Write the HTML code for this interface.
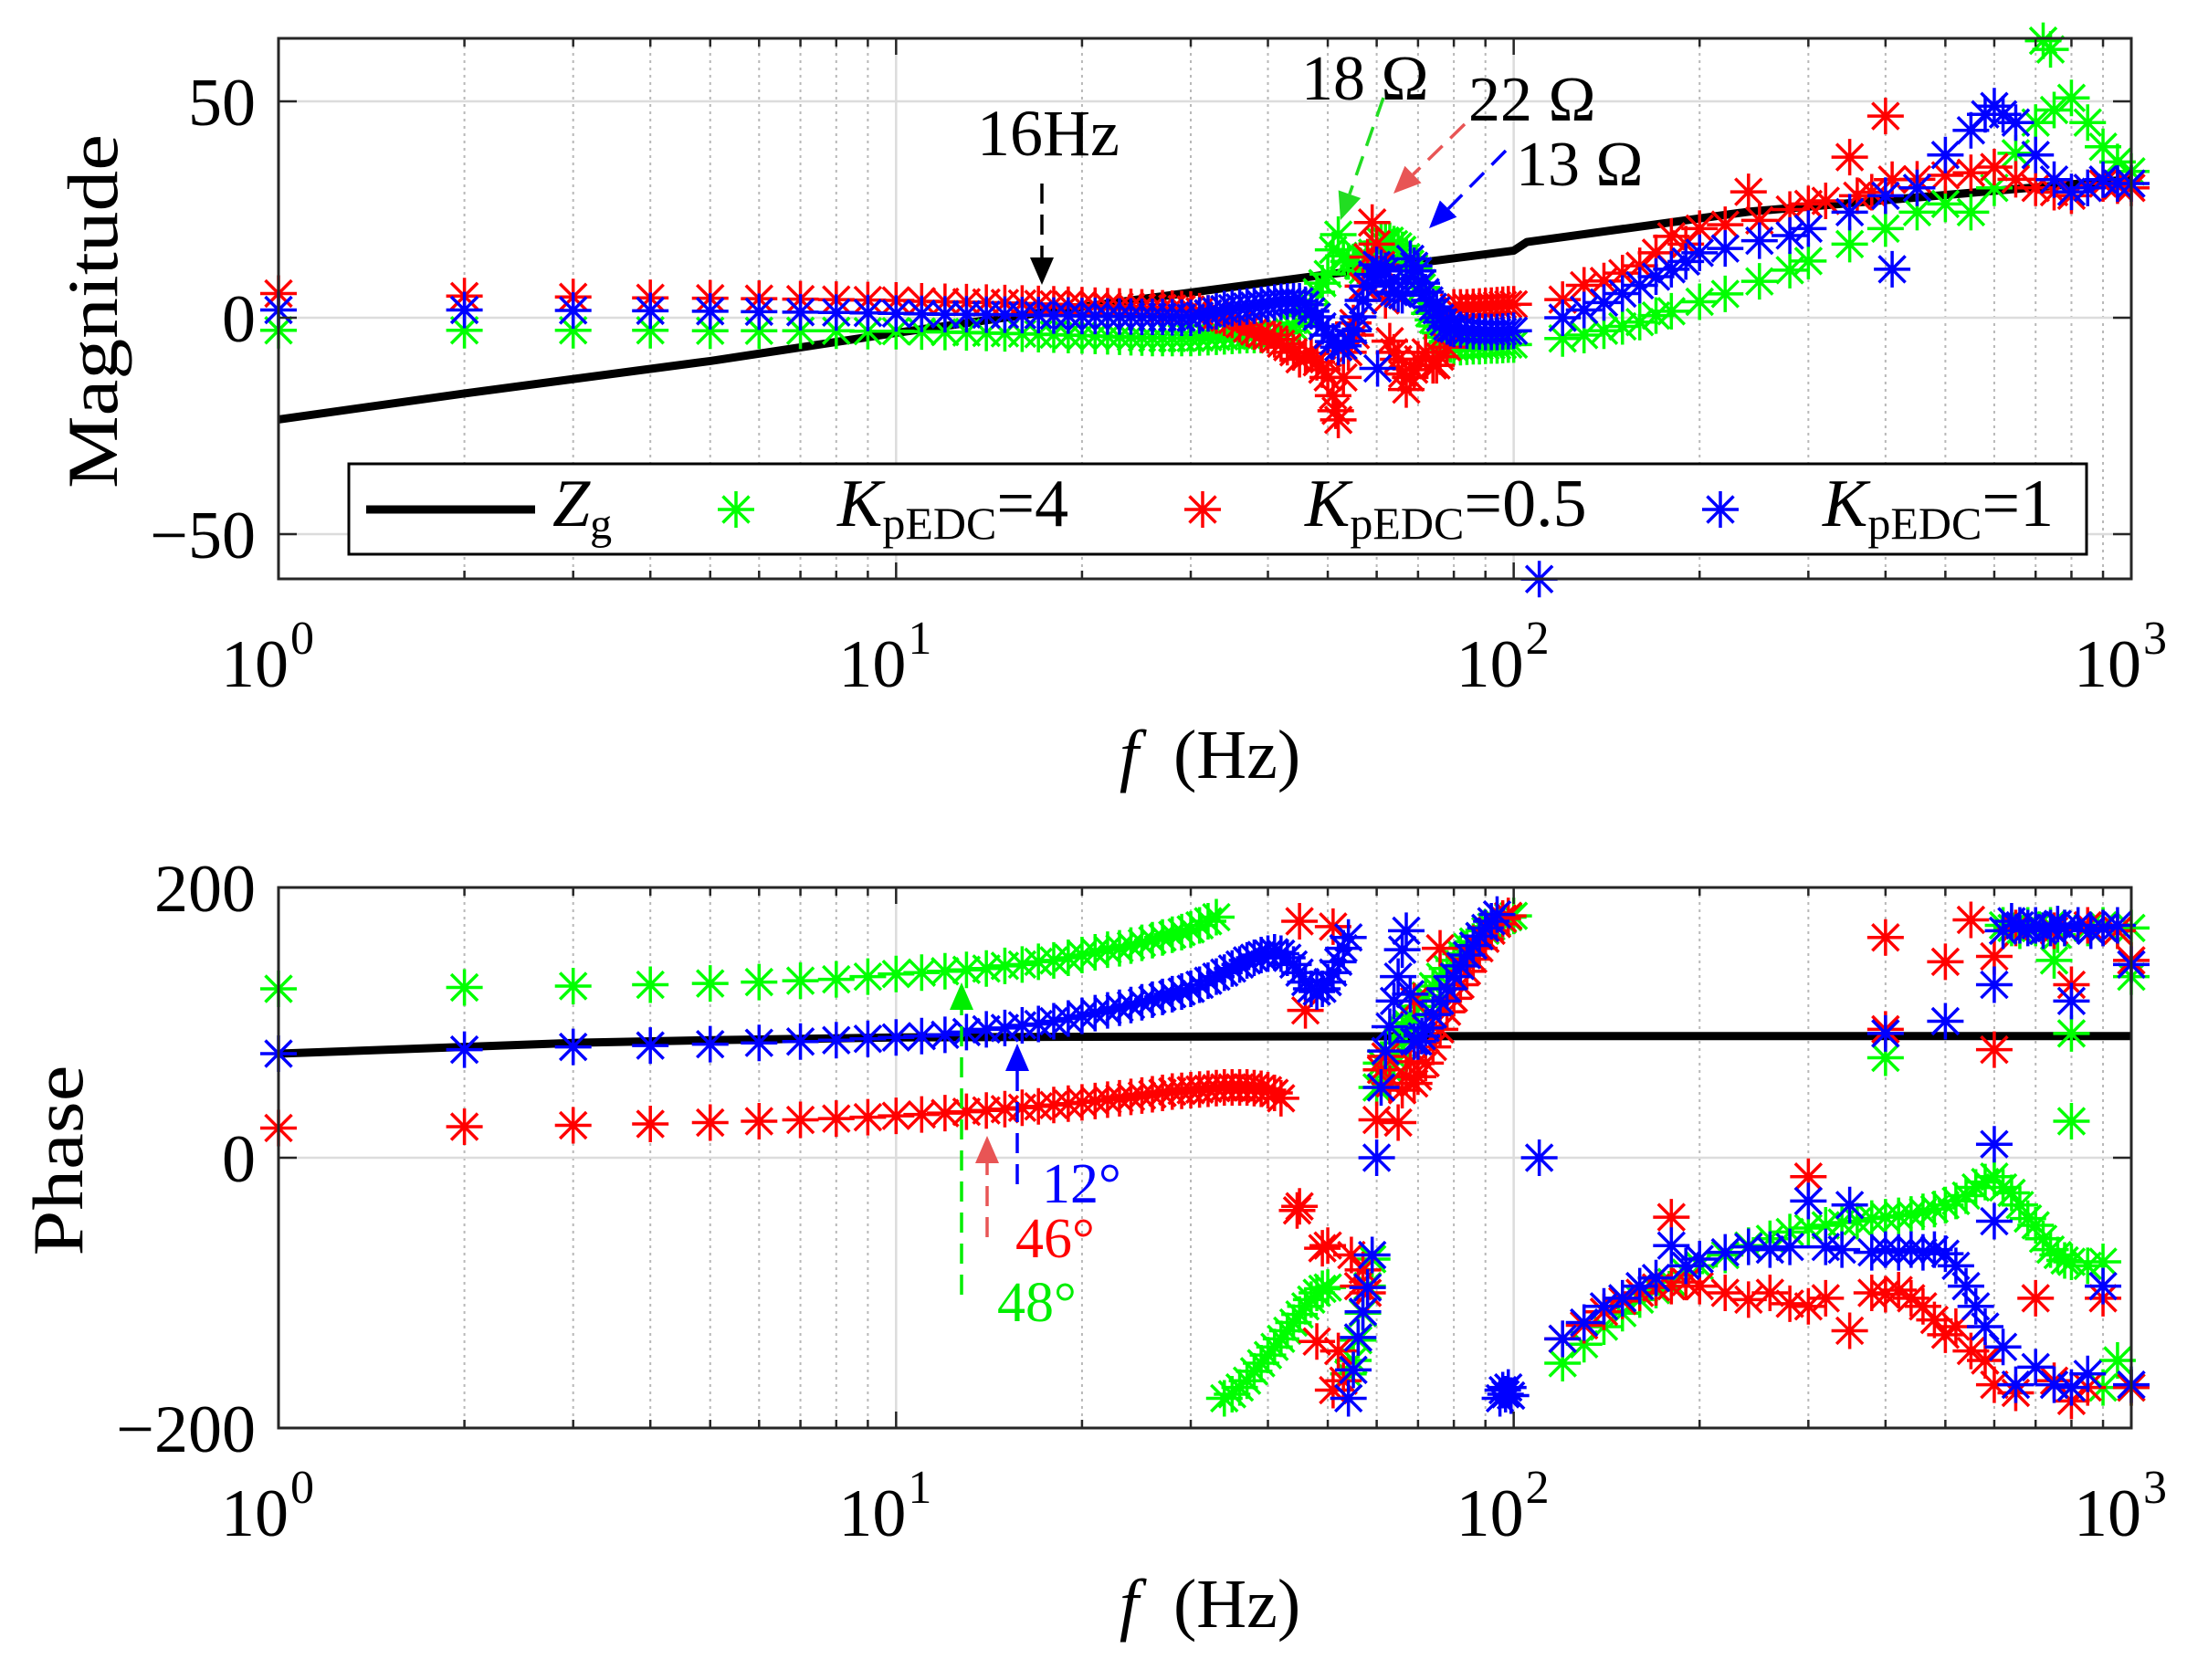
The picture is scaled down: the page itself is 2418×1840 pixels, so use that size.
<!DOCTYPE html>
<html><head><meta charset="utf-8">
<style>
html,body{margin:0;padding:0;background:#fff;}
svg{display:block;font-family:"Liberation Serif",serif;}
</style></head>
<body>
<svg id="chart" width="2418" height="1840" viewBox="0 0 2418 1840" xmlns="http://www.w3.org/2000/svg">
<rect width="2418" height="1840" fill="#fff"/>
<g id="gridM"></g>
<g id="gridP"></g>
<g id="plotM"></g>
<g id="plotP"></g>
<g id="axesM"></g>
<g id="axesP"></g>

<text transform="translate(128,341) rotate(-90)" text-anchor="middle" font-size="78" textLength="388" lengthAdjust="spacingAndGlyphs">Magnitude</text>
<text transform="translate(90,1271) rotate(-90)" text-anchor="middle" font-size="78" textLength="209" lengthAdjust="spacingAndGlyphs">Phase</text>
<text x="1325" y="852" text-anchor="middle" font-size="76" xml:space="preserve"><tspan font-style="italic">f</tspan>  (Hz)</text>
<text x="1325" y="1782" text-anchor="middle" font-size="76" xml:space="preserve"><tspan font-style="italic">f</tspan>  (Hz)</text>

<g id="legend">
  <rect x="382" y="508" width="1903" height="99" fill="#fff" stroke="#000" stroke-width="3"/>
  <line x1="401" y1="558" x2="586" y2="558" stroke="#000" stroke-width="9"/>
  <text x="605" y="576" font-size="74"><tspan font-style="italic">Z</tspan><tspan font-size="48" dy="14">g</tspan></text>
  <text x="917" y="576" font-size="74"><tspan font-style="italic">K</tspan><tspan font-size="50" dy="14">pEDC</tspan><tspan dy="-14">=4</tspan></text>
  <text x="1429" y="576" font-size="74"><tspan font-style="italic">K</tspan><tspan font-size="50" dy="14">pEDC</tspan><tspan dy="-14">=0.5</tspan></text>
  <text x="1996" y="576" font-size="74"><tspan font-style="italic">K</tspan><tspan font-size="50" dy="14">pEDC</tspan><tspan dy="-14">=1</tspan></text>
  <g id="legendStars"></g>
</g>

<g id="annot">
  <text x="1070" y="170" font-size="72">16Hz</text>
  <text x="1425" y="109" font-size="70">18 Ω</text>
  <text x="1608" y="132" font-size="70">22 Ω</text>
  <text x="1660" y="203" font-size="70">13 Ω</text>
  <text x="1141" y="1317" font-size="62" fill="#0000ff">12°</text>
  <text x="1112" y="1377" font-size="62" fill="#ff0000">46°</text>
  <text x="1092" y="1447" font-size="62" fill="#00ee00">48°</text>
</g>
</svg>
<script>
// ---------- data ----------
const zgMag = [[1,-23.5],[2,-17.5],[5,-10],[10,-3.5],[20,2.5],[50,10],[100,15.5],[105,17.5],[240,24.5],[1000,32]];
const zgPhase = [[1,77],[2,82],[3,85],[5,87],[10,89],[20,89.5],[100,90],[1000,90]];

const magGreen = [[1,-2.9],[2,-2.9],[3,-2.9],[4,-2.9],[5,-3],[6,-3],[7,-3],[8,-3],[9,-3.1],[10,-3.1],[11,-3.2],[12,-3.3],[13,-3.4],[14,-3.5],[15,-3.6],[16,-3.7],[17,-3.8],[18,-3.9],[19,-4],[20,-4.1],[21,-4.2],[22,-4.3],[23,-4.4],[24,-4.5],[25,-4.6],[26,-4.7],[27,-4.7],[28,-4.7],[29,-4.7],[30,-4.7],[31,-4.6],[32,-4.5],[33,-4.4],[34,-4.3],[35,-4.2],[36,-4.1],[37,-4],[38,-4],[39,-4],[40,-4],[41,-3.8],[42,-3.5],[43,-3],[44,-2],[45,-1.2],[46,0.5],[47,3],[48,5.9],[49,8],[50,10.1],[51,15.7],[52,19.2],[53,14.3],[54,13],[55,12.9],[56,12],[57,11],[58,13],[59,15],[60,17.1],[61,17.5],[62,17.8],[63,17.8],[64,17],[65,16.5],[66,15.7],[67,14],[68,12.5],[69,11.5],[70,10.8],[71,7],[72,3.8],[73,1],[74,-0.5],[75,-1.9],[76,-3.5],[77,-4.5],[78,-5.5],[79,-6.2],[80,-6.8],[82,-6.8],[84,-6.7],[86,-6.6],[88,-6.6],[90,-6.5],[92,-6.4],[94,-6.4],[96,-6.3],[98,-6.2],[100,-6.2],
[120,-4.8],[130,-4],[140,-3],[150,-2],[160,-1],[170,0.5],[180,1.5],[200,3.7],[220,5.5],[250,8.4],[280,11],[300,13.1],[350,17],[400,20.6],[450,24.4],[500,26.3],[550,24.4],[600,30],[650,38],[700,45.1],[720,64],[740,62],[750,48],[800,50.8],[850,45.1],[900,39.5],[950,36],[1000,33.8]];

const magRed = [[1,5.6],[2,5],[3,4.8],[4,4.6],[5,4.5],[6,4.4],[7,4.3],[8,4.2],[9,4.1],[10,4],[11,3.8],[12,3.7],[13,3.6],[14,3.5],[15,3.4],[16,3.3],[17,3.2],[18,3.1],[19,3],[20,2.9],[21,2.8],[22,2.7],[23,2.6],[24,2.5],[25,2.4],[26,2.3],[27,2.2],[28,2.1],[29,2],[30,1.9],[31,1.5],[32,1],[33,0.5],[34,0],[35,-0.5],[36,-1.5],[37,-2.5],[38,-3.2],[39,-3.8],[40,-4],[41,-5],[42,-6],[43,-6.8],[44,-8],[45,-9.6],[46,-9],[47,-8.2],[48,-10.3],[49,-12],[50,-13.8],[51,-18],[51.5,-21.5],[52,-23.6],[53,-13.8],[54,-8],[55,-1.2],[55.5,-4],[57,7.3],[58,14],[59,22],[60,17],[61,12.2],[62,4],[63,-5.4],[64,-8],[65,-9.6],[66,-13],[67,-16.6],[68,-13.8],[69,-12],[70,-9.6],[72,-8],[74,-11],[75,-11],[76,-9],[78,-6.8],[80,2.4],[82,2.4],[84,2.4],[86,2.5],[88,2.6],[90,2.7],[92,2.8],[94,2.9],[96,3],[98,3.1],[100,3.1],
[120,4.2],[130,7.5],[140,8.5],[150,10.3],[160,12],[170,15],[180,18.8],[190,17],[200,20.6],[220,21.5],[240,29.1],[250,22.5],[280,25],[300,26.3],[320,27],[350,37.1],[360,28.2],[380,29],[400,46.6],[410,31.9],[450,32],[500,32.9],[550,33.5],[600,34.8],[650,32],[700,30],[750,29],[800,28.2],[850,30],[900,31],[950,30.5],[1000,30]];

const magBlue = [[1,1.8],[2,1.8],[3,1.7],[4,1.6],[5,1.5],[6,1.4],[7,1.3],[8,1.2],[9,1.1],[10,1],[11,0.9],[12,0.8],[13,0.8],[14,0.7],[15,0.7],[16,0.6],[17,0.6],[18,0.5],[19,0.5],[20,0.4],[21,0.4],[22,0.3],[23,0.3],[24,0.3],[25,0.2],[26,0.2],[27,0.2],[28,0.1],[29,0],[30,0],[31,0.5],[32,1],[33,1.5],[34,2],[35,2.2],[36,2.4],[37,2.6],[38,2.8],[39,3],[40,3.2],[41,3.5],[42,3.7],[43,3.8],[44,3.8],[45,3.8],[46,3],[47,1.5],[48,0.2],[49,-2],[50,-4],[51,-5.5],[52,-6.8],[53,-6.5],[54,-5.4],[55,-3],[56,0.2],[57,4],[58,7.3],[59,10],[60,12.2],[60.2,-11.7],[61,11.5],[62,10.8],[63,8],[64,5.9],[65,5.5],[66,5.2],[67,9],[68,13.6],[69,12],[70,10.8],[71,8],[72,5.9],[73,4],[74,2.5],[75,1.7],[76,0],[77,-1],[78,-2],[79,-2.4],[80,-2.6],[82,-2.8],[84,-3],[86,-3.1],[88,-3.2],[90,-3.3],[92,-3.3],[94,-3.3],[96,-3.2],[98,-3.1],[100,-3],
[110,-60.4],[120,0],[130,1.8],[140,3.5],[150,5.6],[160,7.5],[170,9.5],[180,11.2],[190,13],[200,15],[220,16],[250,17.8],[280,19],[300,20.6],[350,24.4],[400,28.2],[410,11.2],[450,30],[500,37.6],[550,43.3],[580,47],[600,48.9],[620,47],[650,45.1],[700,37.6],[750,31.9],[800,29.1],[850,30],[900,31.9],[950,31],[1000,31]];

const phGreen = [[1,125],[2,126],[3,127],[4,128],[5,129],[6,130],[7,131],[8,132],[9,134],[10,136],[11,137],[12,138],[13,139],[14,140],[15,142],[16,143],[17,145],[18,146],[19,148],[20,150],[21,152],[22,154],[23,155],[24,157],[25,159],[26,161],[27,163],[28,165],[29,167],[30,169],[31,172],[32,175],[33,178],
[34,-178],[35,-175],[36,-170],[37,-165],[38,-158],[39,-152],[40,-146],[41,-140],[42,-134],[43,-128],[44,-122],[45,-116],[46,-110],[47,-105],[48,-100],[49,-97],[50,-96],[54,-160],[55,-150],[56,-135],[57,-115],[58,-95],[59,-75],[60,52],[61,70],[62,60],[63,65],[64,75],[65,85],[66,95],[67,100],[68,105],[70,112],[72,120],[74,127],[76,134],[78,140],[80,146],[82,151],[84,156],[86,160],[88,164],[90,168],[92,171],[94,174],[96,176],[98,178],[100,179],
[120,-152],[130,-138],[140,-125],[150,-115],[160,-105],[170,-98],[180,-92],[190,-85],[200,-80],[220,-72],[240,-65],[260,-60],[280,-55],[300,-52],[320,-50],[340,-48],[360,-47],[380,-45],[400,-44],[420,-43],[440,-42],[460,-40],[480,-38],[500,-35],[520,-32],[540,-28],[560,-22],[580,-18],[600,-14],[620,-22],[640,-26],[660,-35],[680,-45],[700,-50],[720,-60],[740,-68],[760,-72],[780,-76],[800,-77],[850,-80],[900,-77],[950,-150],[1000,-170],
[400,74],[800,27],[800,92],[750,146],[1000,134],[900,-170],[620,172],[640,170],[660,168],[680,172],[700,170],[720,168],[740,172],[760,165],[780,170],[850,170],[900,172],[950,168],[1000,170]];

const phRed = [[1,22],[2,23],[3,24],[4,25],[5,26],[6,27],[7,28],[8,29],[9,30],[10,31],[11,32],[12,33],[13,34],[14,35],[15,36],[16,37],[17,38],[18,39],[19,40],[20,41],[21,42],[22,43],[23,44],[24,45],[25,46],[26,47],[27,48],[28,49],[29,49.5],[30,50],[31,50.5],[32,51],[33,51.5],[34,52],[35,52],[36,52],[37,52],[38,51.5],[39,51],[40,50],[41,48],[42,44],
[45,175],[46,109],[51,171],[44.6,-39],[45,-36],[49,-67],[50,-65],[54.6,-72],[48,-136],[52,-143],[51,-172],[53,-165],[57,-83],[58,-100],[56,-95],
[60,28],[61,65],[62,75],[63,55],[65,26],[66,50],[67,60],[68,71],[69,116],[76,155],[69,55],[70,60],[72,70],[74,82],[76,95],[78,108],[80,118],[82,128],[84,138],[86,147],[88,155],[90,162],[92,168],[94,173],[96,177],[98,179],
[120,-134],[130,-124],[140,-114],[150,-106],[160,-100],[170,-96],[180,-95],[180,-44],[190,-92],[200,-95],[220,-100],[240,-105],[260,-100],[280,-108],[300,-14],[300,-110],[320,-104],[350,-128],[380,-100],[400,-101],[420,-98],[440,-104],[460,-110],[480,-120],[500,-131],[520,-125],[550,-143],[580,-150],[600,-168],[650,-174],[700,-104],[750,-165],[800,-180],[850,-170],[900,-104],[1000,-170],
[400,163],[400,95],[500,145],[550,176],[600,149],[600,80],[650,170],[700,172],[750,168],[800,128],[850,172],[900,170],[950,168],[1000,146]];

const phBlue = [[1,77],[2,80],[3,82],[4,83],[5,84],[6,85],[7,86],[8,87],[9,88],[10,89],[11,90],[12,91],[13,93],[14,95],[15,96],[16,98],[17,99],[18,101],[19,103],[20,105],[21,107],[22,109],[23,111],[24,113],[25,115],[26,117],[27,119],[28,121],[29,123],[30,125],[31,128],[32,131],[33,134],[34,137],[35,140],[36,143],[37,146],[38,148],[39,150],[40,151],[41,152],[42,151],[43,148],[44,143],[45,137],[46,130],[47,125],[48,123],[49,125],[50,130],[51,137],[52,145],[53,155],[54,163],
[54,-178],[55,-157],[56,-133],[57,-114],[58,-96],[59,-72],[60,0],[61,52],[62,79],[63,97],[64,116],[65,134],[66,154],[67,168],[68,121],[69,86],[70,86],[71,90],[72,96],[74,106],[76,116],[78,125],[80,134],[82,142],[84,150],[86,157],[88,164],[90,170],[92,175],[94,180],
[95,-178],[96,-172],[97,-175],[98,-170],[99,-176],[110,0],
[120,-134],[130,-122],[140,-110],[150,-104],[160,-95],[170,-89],[180,-65],[190,-80],[200,-75],[220,-70],[240,-66],[260,-68],[280,-66],[300,-32],[320,-66],[340,-68],[350,-35],[380,-70],[400,-68],[420,-70],[440,-68],[460,-70],[480,-68],[500,-71],[520,-80],[540,-95],[560,-110],[580,-125],[600,-47],[620,-140],[650,-168],[700,-155],[750,-168],[800,-170],[850,-160],[900,-95],[1000,-168],
[400,92],[500,101],[600,128],[600,10],[800,116],[620,168],[640,175],[660,172],[680,170],[700,172],[720,168],[740,170],[760,173],[780,170],[820,172],[860,168],[900,170],[950,172],[1000,143]];

const magTicks = [50, 0, -50];
const phTicks = [200, 0, -200];
const decadeExps = [0, 1, 2, 3];

// ---------- axes ----------
const L = 305, R = 2334, DEC = 676.33;
const M_TOP = 42, M_BOT = 634, P_TOP = 972, P_BOT = 1564;
const xS = f => L + DEC * Math.log10(f);
const yM = v => 348 - v * 4.74;
const yP = v => 1268 - v * 1.48;
const NS = 'http://www.w3.org/2000/svg';
function mk(tag, attrs, parent) {
  const e = document.createElementNS(NS, tag);
  for (const k in attrs) e.setAttribute(k, attrs[k]);
  parent.appendChild(e);
  return e;
}

function drawAxes(gGrid, gAx, top, bot, ticks, yFn, name, labelBase) {
  for (let d = 0; d < 3; d++) {
    for (let m = 2; m <= 9; m++) {
      const x = xS(m * Math.pow(10, d));
      const gl = mk('line', {x1: x, x2: x, y1: top, y2: bot, stroke: '#b8b8b8', 'stroke-width': 2, 'stroke-dasharray': '3,5'}, gGrid);
      
      
      for (const [a, b] of [[top, top + 9], [bot, bot - 9]]) {
        const t = mk('line', {x1: x, x2: x, y1: a, y2: b, stroke: '#262626', 'stroke-width': 2.5}, gAx);
        
        
      }
    }
  }
  decadeExps.forEach(e => {
    const x = xS(Math.pow(10, e));
    const gl = mk('line', {x1: x, x2: x, y1: top, y2: bot, stroke: '#dcdcdc', 'stroke-width': 2.5}, gGrid);
    
    
    for (const [a, b] of [[top, top + 18], [bot, bot - 18]]) {
      const t = mk('line', {x1: x, x2: x, y1: a, y2: b, stroke: '#262626', 'stroke-width': 2.5}, gAx);
      
      
    }
    const tx = mk('text', {x: x - 12, y: labelBase, 'text-anchor': 'middle', 'font-size': 74}, gAx);
    
    
    tx.textContent = '10';
    const sup = mk('tspan', {'font-size': 52, dx: 2, dy: -36}, tx);
    sup.textContent = String(e);
  });
  ticks.forEach(v => {
    const y = yFn(v);
    if (y > top + 2 && y < bot - 2) {
      const gl = mk('line', {x1: L, x2: R, y1: y, y2: y, stroke: '#dcdcdc', 'stroke-width': 2.5}, gGrid);
      
      
    }
    for (const [a, b] of [[L, L + 20], [R, R - 20]]) {
      const t = mk('line', {x1: a, x2: b, y1: y, y2: y, stroke: '#262626', 'stroke-width': 2.5}, gAx);
      
      
    }
    const tx = mk('text', {x: 280, y: y + 26, 'text-anchor': 'end', 'font-size': 74}, gAx);
    
    
    tx.textContent = v < 0 ? '\u2212' + Math.abs(v) : String(v);
  });
  const box = mk('rect', {x: L, y: top, width: R - L, height: bot - top, fill: 'none', stroke: '#262626', 'stroke-width': 3}, gAx);
  
  
}
drawAxes(document.getElementById('gridM'), document.getElementById('axesM'), M_TOP, M_BOT, magTicks, yM, 'magnitude', 752);
drawAxes(document.getElementById('gridP'), document.getElementById('axesP'), P_TOP, P_BOT, phTicks, yP, 'phase', 1682);

// ---------- series ----------
function starPath(x, y) {
  const r = 20, d = 14.5;
  return `M${x - r} ${y}H${x + r}M${x} ${y - r}V${y + r}M${x - d} ${y - d}L${x + d} ${y + d}M${x - d} ${y + d}L${x + d} ${y - d}`;
}
function drawStars(parent, data, yFn, color, name) {
  const g = mk('g', {}, parent);
  
  
  data.forEach(([f, v]) => {
    const p = mk('path', {d: starPath(xS(f), yFn(v)), stroke: color, 'stroke-width': 3.5, fill: 'none'}, g);
    
    
  });
}
function drawLine(parent, data, yFn, name) {
  const pts = data.map(([f, v]) => xS(f).toFixed(1) + ',' + yFn(v).toFixed(1)).join(' ');
  const pl = mk('polyline', {points: pts, fill: 'none', stroke: '#000', 'stroke-width': 9, 'stroke-linejoin': 'round'}, parent);
  
  
}
const pM = document.getElementById('plotM'), pP = document.getElementById('plotP');
drawLine(pM, zgMag, yM, 'zg-magnitude-line');
drawStars(pM, magGreen, yM, '#00ff00', 'kpedc4-magnitude');
drawStars(pM, magRed, yM, '#ff0000', 'kpedc05-magnitude');
drawStars(pM, magBlue, yM, '#0000ff', 'kpedc1-magnitude');
drawLine(pP, zgPhase, yP, 'zg-phase-line');
drawStars(pP, phGreen, yP, '#00ff00', 'kpedc4-phase');
drawStars(pP, phRed, yP, '#ff0000', 'kpedc05-phase');
drawStars(pP, phBlue, yP, '#0000ff', 'kpedc1-phase');

// legend stars
const ls = document.getElementById('legendStars');
[[806, '#00ff00', 'legend-kpedc4-marker'], [1317, '#ff0000', 'legend-kpedc05-marker'], [1884, '#0000ff', 'legend-kpedc1-marker']].forEach(([x, c, n]) => {
  const p = mk('path', {d: starPath(x, 558), stroke: c, 'stroke-width': 3.5, fill: 'none'}, ls);
  
  
});

// ---------- annotation arrows ----------
const an = document.getElementById('annot');
function arrow(x1, y1, x2, y2, color, name) {
  const dx = x2 - x1, dy = y2 - y1, len = Math.hypot(dx, dy), ux = dx / len, uy = dy / len;
  const hl = 30, hw = 13;
  const bx = x2 - ux * hl, by = y2 - uy * hl;
  const ln = mk('line', {x1: x1, y1: y1, x2: bx, y2: by, stroke: color, 'stroke-width': 3.5, 'stroke-dasharray': '22,12'}, an);
  
  
  const hd = mk('polygon', {points: `${x2},${y2} ${bx - uy * hw},${by + ux * hw} ${bx + uy * hw},${by - ux * hw}`, fill: color}, an);
  
  
}
arrow(1141, 201, 1141, 312, '#000', 'arrow-16hz');
arrow(1515, 107, 1468, 241, '#22dd22', 'arrow-18-ohm');
arrow(1604, 136, 1526, 212, '#e85555', 'arrow-22-ohm');
arrow(1649, 165, 1565, 250, '#0000ff', 'arrow-13-ohm');
arrow(1053, 1418, 1053, 1076, '#00ee00', 'arrow-48-deg');
arrow(1081, 1355, 1081, 1244, '#e85555', 'arrow-46-deg');
arrow(1114, 1297, 1114, 1143, '#0000ff', 'arrow-12-deg');
</script>
</body></html>
